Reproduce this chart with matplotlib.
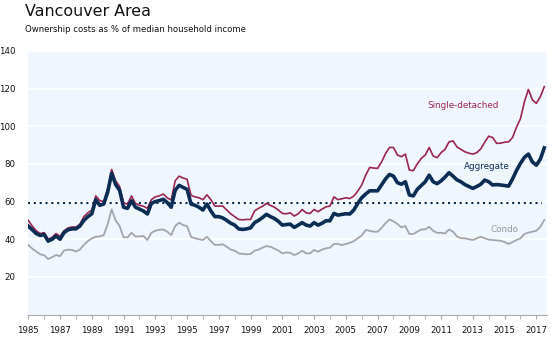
import numpy as np
import matplotlib
matplotlib.use("Agg")
import matplotlib.pyplot as plt

start_year = 1985.0
aggregate = [
    47, 45, 43, 42,
    42.5, 39, 40, 41.7,
    40, 43.5, 45, 45.5,
    45.5, 47, 50, 52,
    53.5, 61, 58, 58.7,
    65, 75, 69, 66,
    57, 56.4, 60.4, 57,
    56, 55, 53.4, 59,
    60, 60.5, 61.2, 59.5,
    57, 66, 68.6, 67.5,
    66.5, 58.7, 58, 57,
    55.5, 58.7, 55, 52,
    52, 51.3, 50, 48.5,
    47.5, 45.5, 45.2, 45.5,
    46, 48.8, 50, 51.5,
    53.2, 52, 51, 49.5,
    47.5, 47.8, 48, 46.3,
    47.5, 48.8, 47.5, 47,
    48.8, 47.5, 48.5, 49.8,
    49.8, 53.7, 52.8, 53.2,
    53.5, 53.4, 55.5, 59,
    62, 64, 65.7, 65.7,
    65.7, 68.8, 72, 74.4,
    73.5, 70, 69.2, 70.5,
    63.5, 63, 66.5, 68.5,
    70.5, 74, 70.5, 69.5,
    71, 73, 75.3, 73.5,
    71.5, 70.5, 69, 68,
    67, 68, 69.2, 71.4,
    70.5, 68.8, 69, 68.8,
    68.5, 68.2, 72, 76.5,
    80.3, 83.5, 85.2, 81,
    79.3, 82.5, 88.5,
]
single_detached = [
    50, 47, 44.5, 43,
    43.5, 40, 41, 43,
    41.5, 44.5, 46, 46.5,
    46.5, 48, 52, 54,
    55.5, 63, 60.5, 60,
    67, 77, 71, 68,
    59.5, 58.5, 63, 59,
    58, 57.5, 56.4, 61,
    62.5, 63, 64, 62,
    60.8, 71, 73.5, 72.5,
    71.8, 63.3, 62.5, 62,
    61, 63.6, 61, 57.6,
    57.6, 57.6, 55.5, 53.5,
    52, 50.5, 50.3, 50.5,
    50.5, 55, 56.4, 57.5,
    59, 58, 57, 55.5,
    53.7, 53.5, 54, 52.3,
    53.5, 55.8, 54, 53.7,
    55.8, 54.6, 56, 57.2,
    57.6, 62.5, 61, 61.5,
    62, 61.6, 62.9, 65.5,
    68.8, 74, 78.1, 77.8,
    77.6, 81, 85.5, 88.7,
    88.7, 84.7, 83.8, 85.2,
    76.7, 76.4, 80, 82.9,
    84.7, 88.7, 84.2, 83.3,
    86, 87.7, 91.7, 92.2,
    89, 87.7, 86.4, 85.7,
    85.2, 86, 88, 91.5,
    94.7, 94, 90.9, 91,
    91.5, 91.7, 94, 99.5,
    104, 113, 119.5, 114,
    112.1, 115.6, 121,
]
condo = [
    37, 35, 33.5, 32,
    31.5, 29.5, 30.5, 31.6,
    31, 34, 34.5, 34.3,
    33.5, 34.5, 37, 39,
    40.5, 41.3, 41.5, 42.2,
    48, 55.9, 50, 47,
    41, 41, 43.4, 41.5,
    41.5, 41.7, 39.6, 43.4,
    44.5, 45, 45.2, 44,
    42.2, 47, 48.8, 47.5,
    47, 41.3, 40.5, 40,
    39.6, 41.3, 39, 37,
    37, 37.3, 36, 34.5,
    33.9, 32.5, 32.2, 32,
    32.2, 33.9, 34.5, 35.5,
    36.4, 36, 35, 34,
    32.5, 33, 32.8, 31.6,
    32.5, 33.9, 32.5, 32.5,
    34.3, 33.4, 34.5, 35.2,
    35.5, 37.5, 37.5, 36.9,
    37.5, 38.1, 39, 40.5,
    42, 44.9, 44.5, 44,
    44, 46, 48.5, 50.5,
    49.5, 48.1, 46.3, 47,
    42.8, 42.8, 44, 45.2,
    45.2, 46.6, 44.5, 43.4,
    43.4, 43.1, 45.2, 44,
    41.5, 40.5, 40.5, 40,
    39.6, 40.5, 41.3, 40.5,
    39.8, 39.6, 39.4, 39.2,
    38.5, 37.5, 38.5, 39.6,
    40.5, 42.8, 43.5, 44,
    44.5, 46.6, 50.2,
]
long_term_average = 59.4
avg_end_year = 2017.35
y_ticks = [20, 40, 60, 80, 100, 120, 140]
x_labels = list(range(1985, 2018, 2))

quarters = start_year + 0.25 * np.arange(len(aggregate))

NAVY = "#0B2D55"
MAROON = "#9A2550"
GRAY = "#A3A5AB"
BG = "#EFF6FD"

fig = plt.figure(figsize=(5.55, 3.39), dpi=100)
ax = fig.add_axes([0.051, 0.072, 0.934, 0.778])
ax.set_facecolor(BG)

for y in y_ticks:
    ax.axhline(y, color="white", lw=1.2, zorder=1)

ax.plot(quarters, condo, color=GRAY, lw=1.3, zorder=3)
ax.plot([start_year, avg_end_year], [long_term_average] * 2, color=NAVY,
        lw=1.5, ls=(0, (1, 1.8)), zorder=2)
ax.plot(quarters, single_detached, color=MAROON, lw=1.2, zorder=4)
ax.plot(quarters, aggregate, color=NAVY, lw=2.6, zorder=5,
        solid_joinstyle="round")

ax.set_xlim(1985, 2017.65)
ax.set_ylim(0, 140)
ax.set_yticks(y_ticks)
ax.set_xticks(x_labels)
ax.set_xticklabels([str(v) for v in x_labels])
ax.set_xticks(range(1985, 2018), minor=True)

for s in ["top", "right", "left"]:
    ax.spines[s].set_visible(False)
ax.spines["bottom"].set_color("#AAAAAA")
ax.spines["bottom"].set_linewidth(0.8)
ax.tick_params(axis="y", length=0, pad=9, labelsize=6.2, labelcolor="#111111")
ax.tick_params(axis="x", which="both", length=3, color="#AAAAAA",
               labelsize=6.2, pad=5, labelcolor="#111111")

ax.text(2012.4, 110.8, "Single-detached", color=MAROON, fontsize=6.3,
        ha="center", va="center")
ax.text(2013.85, 78.5, "Aggregate", color=NAVY, fontsize=6.3,
        ha="center", va="center")
ax.text(2015.0, 45.4, "Condo", color="#999999", fontsize=6.3,
        ha="center", va="center")

fig.text(25 / 555, 1 - 11 / 339, "Vancouver Area", fontsize=11.4,
         color="#111111", ha="left", va="center")
fig.text(25 / 555, 1 - 29 / 339, "Ownership costs as % of median household income",
         fontsize=6.1, color="#111111", ha="left", va="center")

fig.savefig("out.png", dpi=100)
